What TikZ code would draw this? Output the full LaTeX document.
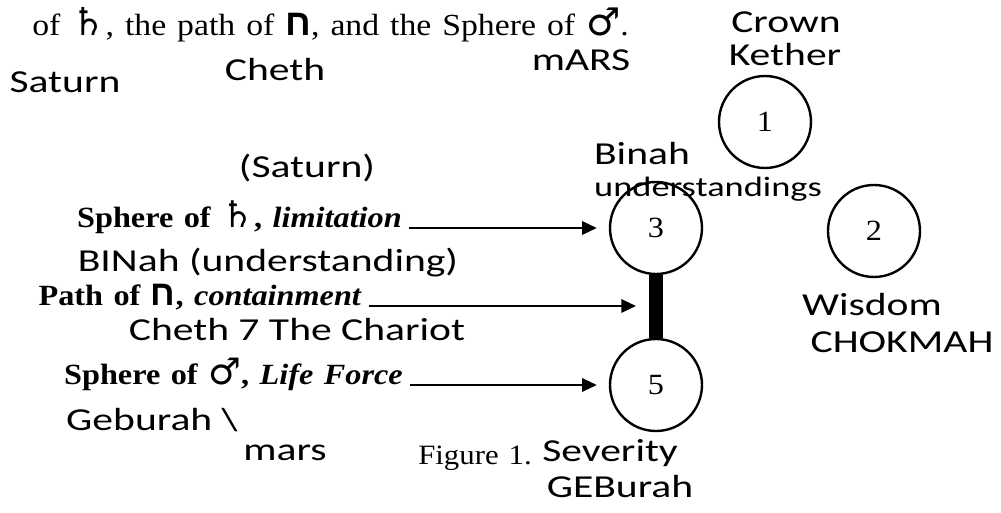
\documentclass[tikz,border=0pt]{standalone}
\usepackage{fontspec}
\setmainfont[FakeStretch=1.1,WordSpace=1.3]{Liberation Serif}
\newfontfamily\astrofont[Scale=1.25]{DejaVu Sans}
\newfontfamily\hebfont[Script=Hebrew,Scale=1.2]{Liberation Sans}
\newfontfamily\handfont[FakeStretch=1.3]{Carlito}
\TeXXeTstate=1
\usetikzlibrary{arrows.meta}
\newcommand{\saturnsym}{{\astrofont\bfseries ♄}}
\newcommand{\marssym}{{\astrofont\bfseries ♂}}
\newcommand{\chethsym}{{\hebfont\bfseries\beginR ח\endR}}

\begin{document}
\begin{tikzpicture}[x=0.75pt,y=-0.75pt,>={Triangle[length=11pt,width=10pt]},font=\fontsize{22}{26}\selectfont,
  sephira/.style={circle,draw,line width=1.8pt,minimum size=69pt,inner sep=0pt,font=\fontsize{22}{26}\selectfont},
  note/.style={font=\handfont\fontsize{24}{26}\selectfont,inner sep=0pt},
  lbl/.style={anchor=base east,inner sep=0pt,font=\bfseries\fontsize{22}{26}\selectfont},
  pointer/.style={->,line width=1.5pt,shorten <=5pt,shorten >=9pt}]
\useasboundingbox (0,0) rectangle (1001,513);
\node[anchor=base west,inner sep=0pt,font=\fontsize{23}{26}\selectfont] (intro) at (32,36){of \saturnsym, the path of \chethsym, and the Sphere of \marssym.};
% sephiroth
\node[sephira] (kether) at (765,122){1};
\node[sephira] (chokmah) at (874,231){2};
\node[sephira] (binah) at (656,228){3};
\node[sephira] (geburah) at (656,385){5};
\draw[line width=11pt] (binah) -- (geburah);
\coordinate (pathend) at (648,306);
% printed labels and pointers
\node[lbl] (sat) at (402,228){Sphere of \saturnsym, \textit{limitation}};
\node[lbl] (cheth) at (362,306){Path of \chethsym, \textit{containment}};
\node[lbl] (mars) at (403,385){Sphere of \marssym, \textit{Life Force}};
\draw[pointer] (sat.base east) -- (binah.west);
\draw[pointer] (cheth.base east) -- (pathend);
\draw[pointer] (mars.base east) -- (geburah.west);
\node[anchor=base west,inner sep=0pt,font=\fontsize{21}{24}\selectfont] (fig) at (418,465){Figure 1.};
% handwritten notes
\node[note] (hSaturn) at (65,82){Saturn};
\node[note] (hCheth) at (275,70){Cheth};
\node[note] (hMars) at (581,60){mARS};
\node[note] (hCrown) at (786,22){Crown};
\node[note] (hKether) at (785,55){Kether};
\node[note] (hSaturnB) at (307,168){(Saturn)};
\node[note] (hBinah) at (642,154){Binah};
\node[note,font=\handfont\fontsize{21}{24}\selectfont] (hUnderst) at (708,189){understandings};
\node[note] (hBinahB) at (268,263){BINah (understanding)};
\node[note] (hChariot) at (297,330){Cheth 7 The Chariot};
\node[note] (hWisdom) at (872,305){Wisdom};
\node[note] (hChokmah) at (902,342){CHOKMAH};
\node[note] (hGeburah) at (152,420){Geburah \textbackslash};
\node[note] (hMarsB) at (285,453){mars};
\node[note] (hSeverity) at (610,453){Severity};
\node[note] (hGeburahB) at (620,487){GEBurah};
\end{tikzpicture}
\end{document}
